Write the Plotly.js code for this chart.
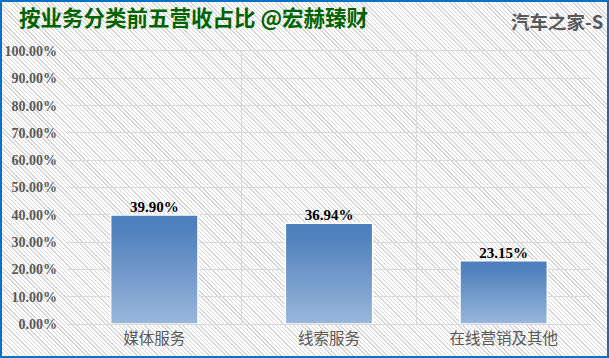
<!DOCTYPE html>
<html>
<head>
<meta charset="utf-8">
<script src="https://cdn.plot.ly/plotly-3.0.1.min.js"></script>
<style>
html,body{margin:0;padding:0;background:#fff;}
#wrap{position:relative;width:609px;height:358px;overflow:hidden;
  background:repeating-linear-gradient(45deg,#ffffff 0px,#ffffff 2px,#d6d6d6 2px,#d6d6d6 3px);}
#chart{position:absolute;left:0;top:0;width:609px;height:358px;}
#frame{position:absolute;left:0;top:0;width:609px;height:358px;box-sizing:border-box;border:2px solid #0a72c6;pointer-events:none;}
</style>
</head>
<body>
<div id="wrap"><div id="chart"></div><div id="frame"></div></div>
<script>
const categories = ['媒体服务', '线索服务', '在线营销及其他'];
const shares = [0.3990, 0.3694, 0.2315];
const titleText = '按业务分类前五营收占比 @宏赫臻财';
const companyText = '汽车之家-S';

const serif = '"Liberation Serif", "DejaVu Serif", serif';
const cjk = '"Noto Sans CJK SC", "Noto Sans", sans-serif';

const trace = {
  type: 'bar',
  x: categories,
  y: shares,
  marker: {color: '#6f97c9', line: {color: '#ffffff', width: 1.5}},
  texttemplate: '<b>%{y:.2%}</b>',
  textposition: 'outside',
  textfont: {family: serif, size: 15, color: '#000000'},
  cliponaxis: false,
  hoverinfo: 'skip'
};

const layout = {
  width: 609, height: 358,
  margin: {l: 67, r: 18, t: 51, b: 34},
  paper_bgcolor: 'rgba(0,0,0,0)',
  plot_bgcolor: 'rgba(0,0,0,0)',
  showlegend: false,
  bargap: 0.5,
  title: {
    text: '<b>' + titleText + '</b>',
    font: {family: cjk, size: 21.5, color: '#006400'},
    xref: 'container', x: 19/609, xanchor: 'left',
    yref: 'container', y: 1 - 18/358, yanchor: 'middle'
  },
  xaxis: {
    type: 'category',
    tickson: 'boundaries',
    showgrid: true, gridcolor: '#d9d9d9', gridwidth: 1,
    showline: true, linecolor: '#d9d9d9', linewidth: 1, mirror: true,
    ticks: '', zeroline: false,
    tickfont: {family: cjk, size: 15.5, color: '#595959'}
  },
  yaxis: {
    range: [0, 1],
    dtick: 0.1,
    tickformat: '.2%',
    showgrid: true, gridcolor: '#d9d9d9', gridwidth: 1,
    zeroline: false, showline: false, ticks: '',
    ticklabelstandoff: 9,
    tickfont: {family: serif, size: 14, color: '#595959', weight: 'bold'}
  },
  annotations: [{
    text: '<b>' + companyText + '</b>',
    xref: 'paper', yref: 'paper',
    x: (605-67)/524, xanchor: 'right',
    y: (324-21)/273, yanchor: 'middle',
    showarrow: false,
    font: {family: cjk, size: 18.5, color: '#595959'}
  }]
};

Plotly.newPlot('chart', [trace], layout, {displayModeBar: false, staticPlot: true}).then(function(gd){
  const svg = gd.querySelector('svg.main-svg');
  const ns = 'http://www.w3.org/2000/svg';
  let defs = svg.querySelector('defs');
  if (!defs) { defs = document.createElementNS(ns, 'defs'); svg.insertBefore(defs, svg.firstChild); }
  const g = document.createElementNS(ns, 'linearGradient');
  g.setAttribute('id', 'barGrad');
  g.setAttribute('x1', '0'); g.setAttribute('y1', '0');
  g.setAttribute('x2', '0'); g.setAttribute('y2', '1');
  [['0', '#4e7fbc'], ['0.15', '#5282be'], ['1', '#9ab7db']].forEach(function(s){
    const st = document.createElementNS(ns, 'stop');
    st.setAttribute('offset', s[0]); st.setAttribute('stop-color', s[1]);
    g.appendChild(st);
  });
  defs.appendChild(g);
  gd.querySelectorAll('.trace.bars .point path').forEach(function(p){
    p.style.fill = 'url(#barGrad)';
  });
  gd.querySelectorAll('.trace.bars .point text').forEach(function(t){
    const tr = t.getAttribute('transform') || '';
    t.setAttribute('transform', 'translate(0,3) ' + tr);
  });
});
</script>
</body>
</html>
